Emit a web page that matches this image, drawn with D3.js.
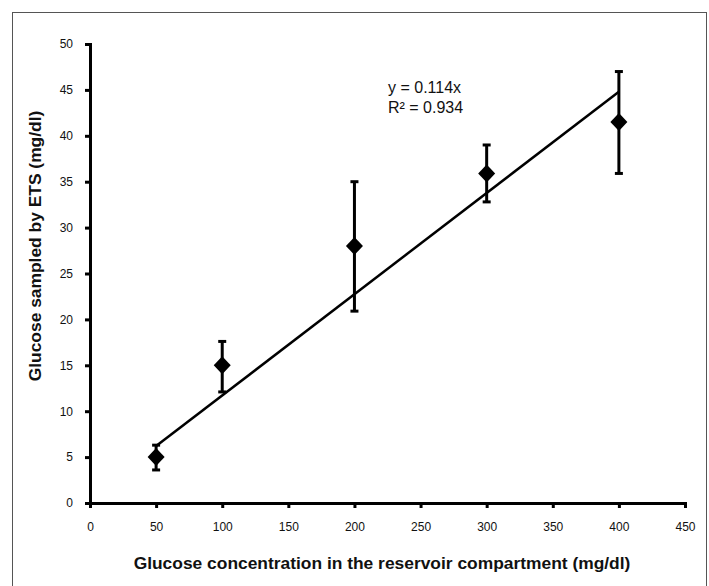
<!DOCTYPE html>
<html>
<head>
<meta charset="utf-8">
<script src="https://cdn.jsdelivr.net/npm/d3@7"></script>
<style>
  body { margin: 0; background: #fff; }
  svg { display: block; font-family: "Liberation Sans", Arial, sans-serif; }
</style>
</head>
<body>
<script>
// glucose in reservoir (x) vs glucose sampled by ETS (y)
let concentrations = [50, 100, 200, 300, 400];
let sampledMean = [5.0, 15.0, 28.0, 35.9, 41.5];
let errUpper = [6.3, 17.6, 35.0, 39.0, 47.0];
let errLower = [3.6, 12.1, 20.9, 32.8, 35.9];
let trendX = [50, 400];
let trendY = [6.2, 44.8];
let xTicks = [0, 50, 100, 150, 200, 250, 300, 350, 400, 450];
let yTicks = [0, 5, 10, 15, 20, 25, 30, 35, 40, 45, 50];

let w = 709, h = 586;

let svg = d3.select("body").append("svg").attr("width", w).attr("height", h);

// outer frame
svg.append("rect")
  .attr("x", 12.5).attr("y", 12.5)
  .attr("width", 694).attr("height", 590)
  .attr("fill", "none").attr("stroke", "#555").attr("stroke-width", 1);

let x = d3.scaleLinear().domain([0, 450]).range([90, 685]);
let y = d3.scaleLinear().domain([0, 50]).range([503, 44]);

let xAxis = svg.append("g")
  .attr("transform", "translate(0," + y(0) + ")")
  .call(d3.axisBottom(x).tickValues(xTicks).tickSize(5).tickPadding(14));
let yAxis = svg.append("g")
  .attr("transform", "translate(" + x(0) + ",0)")
  .call(d3.axisLeft(y).tickValues(yTicks).tickSize(5).tickPadding(12));

[xAxis, yAxis].forEach(function(a){
  a.select(".domain").attr("stroke", "#000").attr("stroke-width", 3);
  a.selectAll(".tick line").attr("stroke", "#000").attr("stroke-width", 3);
  a.selectAll(".tick text").attr("font-size", 12).attr("fill", "#111")
    .attr("font-family", "Liberation Sans, Arial, sans-serif");
});

// trendline
svg.append("line")
  .attr("x1", x(trendX[0])).attr("y1", y(trendY[0]))
  .attr("x2", x(trendX[1])).attr("y2", y(trendY[1]))
  .attr("stroke", "#000").attr("stroke-width", 2.5);

let pts = concentrations.map(function(c, i){
  return {x: c, m: sampledMean[i], hi: errUpper[i], lo: errLower[i]};
});

let g = svg.append("g");
// error bars
g.selectAll(".eb").data(pts).enter().append("line")
  .attr("x1", d => x(d.x)).attr("x2", d => x(d.x))
  .attr("y1", d => y(d.hi)).attr("y2", d => y(d.lo))
  .attr("stroke", "#000").attr("stroke-width", 3);
g.selectAll(".capHi").data(pts).enter().append("line")
  .attr("x1", d => x(d.x) - 4).attr("x2", d => x(d.x) + 4)
  .attr("y1", d => y(d.hi)).attr("y2", d => y(d.hi))
  .attr("stroke", "#000").attr("stroke-width", 3);
g.selectAll(".capLo").data(pts).enter().append("line")
  .attr("x1", d => x(d.x) - 4).attr("x2", d => x(d.x) + 4)
  .attr("y1", d => y(d.lo)).attr("y2", d => y(d.lo))
  .attr("stroke", "#000").attr("stroke-width", 3);

// diamonds
g.selectAll(".pt").data(pts).enter().append("path")
  .attr("d", function(d){
    let cx = x(d.x), cy = y(d.m);
    return "M" + cx + "," + (cy - 9) + "L" + (cx + 8.5) + "," + cy +
           "L" + cx + "," + (cy + 9) + "L" + (cx - 8.5) + "," + cy + "Z";
  })
  .attr("fill", "#000");

// equation
let eq = svg.append("text").attr("x", 388).attr("font-size", 16).attr("fill", "#111");
eq.append("tspan").attr("x", 388).attr("y", 93).text("y = 0.114x");
eq.append("tspan").attr("x", 388).attr("y", 113).text("R² = 0.934");

// axis titles
svg.append("text")
  .attr("x", 382).attr("y", 569)
  .attr("text-anchor", "middle").attr("font-size", 17.4).attr("font-weight", "bold")
  .attr("fill", "#111")
  .text("Glucose concentration in the reservoir compartment (mg/dl)");

svg.append("text")
  .attr("transform", "translate(41,246) rotate(-90)")
  .attr("text-anchor", "middle").attr("font-size", 17.4).attr("font-weight", "bold")
  .attr("fill", "#111")
  .text("Glucose sampled by ETS (mg/dl)");
</script>
</body>
</html>
